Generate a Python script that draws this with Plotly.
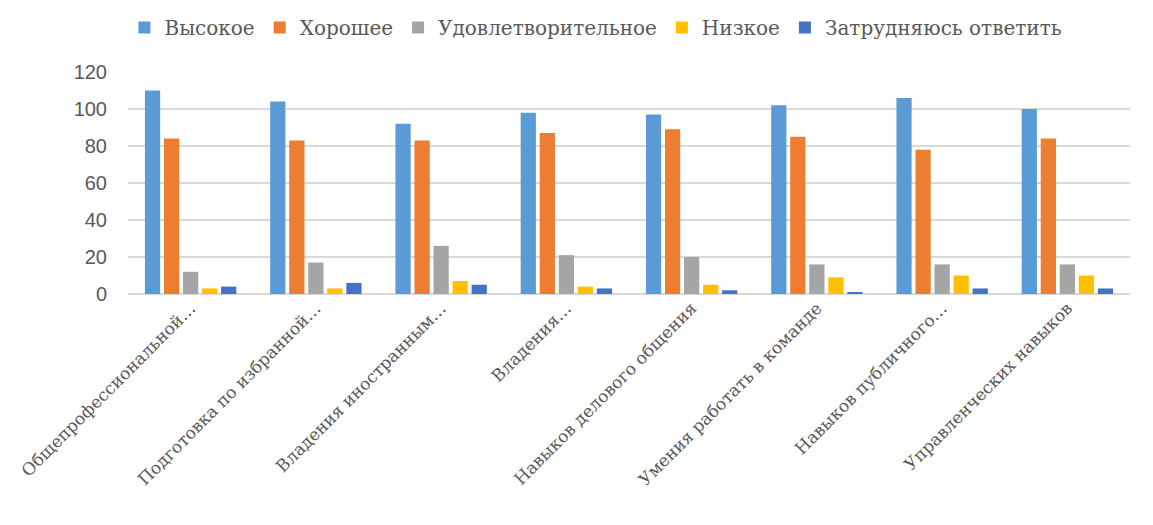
import plotly.graph_objects as go

categories = [
    "Общепрофессиональной…",
    "Подготовка по избранной…",
    "Владения иностранным…",
    "Владения…",
    "Навыков делового общения",
    "Умения работать в команде",
    "Навыков публичного…",
    "Управленческих навыков",
]
series_names = ["Высокое", "Хорошее", "Удовлетворительное", "Низкое", "Затрудняюсь ответить"]
vysokoe = [110, 104, 92, 98, 97, 102, 106, 100]
khoroshee = [84, 83, 83, 87, 89, 85, 78, 84]
udovl = [12, 17, 26, 21, 20, 16, 16, 16]
nizkoe = [3, 3, 7, 4, 5, 9, 10, 10]
zatrud = [4, 6, 5, 3, 2, 1, 3, 3]
y_ticks = [0, 20, 40, 60, 80, 100, 120]

colors = ["#5B9BD5", "#ED7D31", "#A5A5A5", "#FFC000", "#4472C4"]
values = [vysokoe, khoroshee, udovl, nizkoe, zatrud]

SERIF = "DejaVu Serif"

fig = go.Figure()
for name, vals, c in zip(series_names, values, colors):
    fig.add_trace(go.Bar(x=categories, y=vals, name=name, marker_color=c,
                         marker_line_width=0))

fig.update_layout(
    width=1153, height=525,
    paper_bgcolor="white", plot_bgcolor="white",
    margin=dict(l=120, r=31, t=64, b=239, autoexpand=False),
    barmode="group", bargap=0.24, bargroupgap=0.2,
    legend=dict(orientation="h", x=0.467, xanchor="center", y=1.0, yref="container",
                yanchor="top", font=dict(family=SERIF, size=20, color="#595959"),
                itemwidth=30, traceorder="normal"),
    showlegend=True,
)
fig.update_yaxes(range=[0, 120], tickvals=y_ticks, showgrid=True, gridcolor="#D9D9D9",
                 gridwidth=1.5, zeroline=True, zerolinecolor="#D9D9D9", zerolinewidth=1.5,
                 tickfont=dict(family="Liberation Sans", size=20, color="#595959"),
                 ticks="", ticklabelstandoff=20, automargin=False)
fig.update_xaxes(tickangle=-45, tickfont=dict(family=SERIF, size=17, color="#595959"),
                 showline=False, ticks="", automargin=False)

fig.write_html("out.html")
